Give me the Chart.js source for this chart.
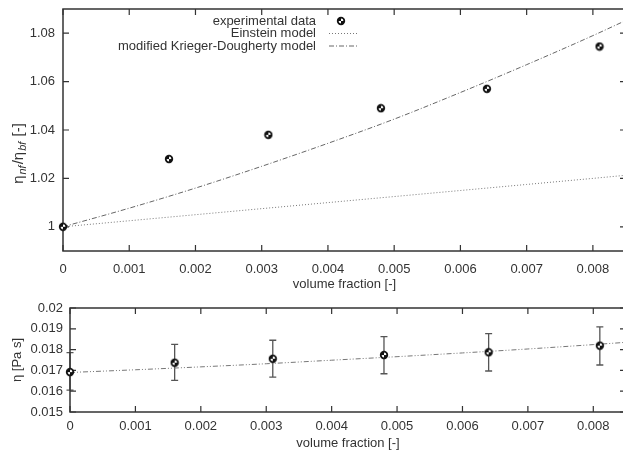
<!DOCTYPE html>
<html>
<head>
<meta charset="utf-8">
<script src="https://cdn.jsdelivr.net/npm/chart.js@4/dist/chart.umd.min.js"></script>
<style>
  html, body { margin: 0; padding: 0; background: #fff; }
  body { width: 623px; height: 454px; overflow: hidden; position: relative; }
  .box { position: absolute; left: 0; }
</style>
</head>
<body>
<div class="box" style="top:0; width:632px; height:300px;"><canvas id="ratioChart"></canvas></div>
<div class="box" style="top:300px; width:632px; height:154px;"><canvas id="viscChart"></canvas></div>
<script>
const volFraction = [0, 0.0016, 0.0031, 0.0048, 0.0064, 0.0081];
const viscRatio = [1.0, 1.028, 1.038, 1.049, 1.057, 1.0745];
const viscosity = [0.01692, 0.01737, 0.01756, 0.01774, 0.01787, 0.01819];
const viscHigh = [0.01785, 0.01825, 0.01845, 0.01862, 0.01877, 0.01909];
const viscLow = [0.01605, 0.01652, 0.01668, 0.01684, 0.01697, 0.01726];

// model curves
const modelX = [0, 0.001, 0.002, 0.003, 0.004, 0.005, 0.006, 0.007, 0.008, 0.0085];
const einsteinRatio = [1.0, 1.0025, 1.005, 1.0075, 1.010, 1.0125, 1.015, 1.0175, 1.020, 1.0213];
const kdRatio = [1.0, 1.0077, 1.016, 1.025, 1.0345, 1.0445, 1.0555, 1.067, 1.079, 1.0853];
const kdViscosity = [0.0169, 0.01703, 0.01717, 0.01732, 0.01749, 0.01766, 0.01784, 0.01803, 0.01824, 0.01835];

// tick labels
const xTicks = [0, 0.001, 0.002, 0.003, 0.004, 0.005, 0.006, 0.007, 0.008];
const xTickLabels = ['0', '0.001', '0.002', '0.003', '0.004', '0.005', '0.006', '0.007', '0.008'];
const ratioTicks = [1, 1.02, 1.04, 1.06, 1.08];
const ratioTickLabels = ['1', '1.02', '1.04', '1.06', '1.08'];
const viscTicks = [0.015, 0.016, 0.017, 0.018, 0.019, 0.02];
const viscTickLabels = ['0.015', '0.016', '0.017', '0.018', '0.019', '0.02'];
const legendLabels = ['experimental data', 'Einstein model', 'modified Krieger-Dougherty model'];

const FONT = 'Liberation Sans, Arial, sans-serif';
const TEXT = '#333';

// little black ball with white flecks, like the gnuplot marker
function makeMarker() {
    const c = document.createElement('canvas');
    c.width = 10; c.height = 10;
    const g = c.getContext('2d');
    g.fillStyle = '#111';
    g.beginPath(); g.arc(5, 5, 4.2, 0, Math.PI * 2); g.fill();
    g.fillStyle = '#fff';
    g.beginPath(); g.moveTo(5, 5); g.arc(5, 5, 2.4, -Math.PI / 2, 0); g.fill();
    g.beginPath(); g.moveTo(5, 5); g.arc(5, 5, 2.4, Math.PI / 2, Math.PI); g.fill();
    return c;
}
const marker = makeMarker();

function setTicks(values) {
    return function (scale) {
        scale.ticks = values.map(v => ({ value: v }));
    };
}

// frame with inward ticks on all four sides
const framePlugin = {
    id: 'frame',
    beforeDatasetsDraw(chart) {
        const { ctx, chartArea: a, scales } = chart;
        ctx.save();
        ctx.strokeStyle = '#333';
        ctx.lineWidth = 1.5;
        ctx.strokeRect(a.left, a.top, a.right - a.left, a.bottom - a.top);
        ctx.lineWidth = 1.2;
        ctx.beginPath();
        scales.x.ticks.forEach(t => {
            const px = scales.x.getPixelForValue(t.value);
            ctx.moveTo(px, a.bottom); ctx.lineTo(px, a.bottom - 6);
            ctx.moveTo(px, a.top); ctx.lineTo(px, a.top + 6);
        });
        scales.y.ticks.forEach(t => {
            const py = scales.y.getPixelForValue(t.value);
            ctx.moveTo(a.left, py); ctx.lineTo(a.left + 6, py);
            ctx.moveTo(a.right, py); ctx.lineTo(a.right - 6, py);
        });
        ctx.stroke();
        ctx.restore();
    }
};

// rotated y title with subscripts
const ratioTitlePlugin = {
    id: 'ratioTitle',
    afterDraw(chart) {
        const ctx = chart.ctx;
        const parts = [['η', false], ['nf', true], ['/η', false], ['bf', true], [' [-]', false]];
        const big = '15px ' + FONT, small = 'italic 11px ' + FONT;
        ctx.save();
        let w = 0;
        parts.forEach(p => { ctx.font = p[1] ? small : big; w += ctx.measureText(p[0]).width + 1; });
        ctx.translate(19, 153);
        ctx.rotate(-Math.PI / 2);
        ctx.fillStyle = TEXT;
        ctx.textBaseline = 'middle';
        let x = -w / 2;
        parts.forEach(p => {
            ctx.font = p[1] ? small : big;
            ctx.fillText(p[0], x, p[1] ? 4 : 0);
            x += ctx.measureText(p[0]).width + 1;
        });
        ctx.restore();
    }
};

// gnuplot style key: text right aligned, sample to the right
const keyPlugin = {
    id: 'key',
    afterDatasetsDraw(chart) {
        const ctx = chart.ctx;
        const rows = [21, 33.5, 46];
        const ds = chart.data.datasets;
        ctx.save();
        ctx.font = '13px ' + FONT;
        ctx.fillStyle = TEXT;
        ctx.textAlign = 'right';
        ctx.textBaseline = 'middle';
        legendLabels.forEach((label, i) => {
            ctx.fillText(label, 316, rows[i]);
        });
        ctx.drawImage(marker, 336, rows[0] - 5);
        [1, 2].forEach(i => {
            ctx.strokeStyle = ds[i].borderColor;
            ctx.lineWidth = ds[i].borderWidth;
            ctx.setLineDash(ds[i].borderDash);
            ctx.beginPath();
            ctx.moveTo(329, rows[i]); ctx.lineTo(359, rows[i]);
            ctx.stroke();
        });
        ctx.restore();
    }
};

// vertical error bars for the viscosity plot
const errorBarPlugin = {
    id: 'errorBars',
    beforeDatasetsDraw(chart) {
        const { ctx, scales } = chart;
        ctx.save();
        ctx.strokeStyle = '#555';
        ctx.lineWidth = 1.3;
        ctx.beginPath();
        volFraction.forEach((v, i) => {
            const px = scales.x.getPixelForValue(v);
            const hi = scales.y.getPixelForValue(viscHigh[i]);
            const lo = scales.y.getPixelForValue(viscLow[i]);
            ctx.moveTo(px, hi); ctx.lineTo(px, lo);
            ctx.moveTo(px - 3.5, hi); ctx.lineTo(px + 3.5, hi);
            ctx.moveTo(px - 3.5, lo); ctx.lineTo(px + 3.5, lo);
        });
        ctx.stroke();
        ctx.restore();
    }
};

function toPoints(xs, ys) {
    return xs.map((x, i) => ({ x: x, y: ys[i] }));
}

function xAxis(height, labelPad, titlePad) {
    return {
        type: 'linear', min: 0, max: 0.0085,
        afterBuildTicks: setTicks(xTicks),
        afterFit(scale) { scale.height = height; scale.paddingLeft = 0; scale.paddingRight = 0; },
        grid: { display: false, drawTicks: false },
        border: { display: false },
        ticks: {
            padding: labelPad, color: TEXT, font: { family: FONT, size: 13 },
            maxRotation: 0,
            callback: (v, i) => xTickLabels[i]
        },
        title: {
            display: true, text: 'volume fraction [-]', color: TEXT,
            font: { family: FONT, size: 13 }, padding: { top: 0, bottom: titlePad }
        }
    };
}

function yFit(width) {
    return function (scale) {
        scale.width = width;
        scale.paddingTop = 0;
        scale.paddingBottom = 0;
    };
}

Chart.defaults.animation = false;

new Chart(document.getElementById('ratioChart'), {
    type: 'scatter',
    data: {
        datasets: [
            {
                label: legendLabels[0], data: toPoints(volFraction, viscRatio),
                pointStyle: marker, pointRadius: 4, clip: false
            },
            {
                label: legendLabels[1], data: toPoints(modelX, einsteinRatio),
                showLine: true, pointRadius: 0, borderColor: '#777', borderWidth: 1,
                borderDash: [1, 2], tension: 0
            },
            {
                label: legendLabels[2], data: toPoints(modelX, kdRatio),
                showLine: true, pointRadius: 0, borderColor: '#666', borderWidth: 1,
                borderDash: [5, 2, 1, 2], cubicInterpolationMode: 'monotone'
            }
        ]
    },
    options: {
        responsive: true, maintainAspectRatio: false,
        layout: { padding: { top: 9, right: 6, left: 0, bottom: 0 } },
        plugins: { legend: { display: false }, tooltip: { enabled: false } },
        scales: {
            x: xAxis(49, 11, 8),
            y: {
                type: 'linear', min: 0.99, max: 1.09,
                afterBuildTicks: setTicks(ratioTicks),
                afterFit: yFit(63),
                grid: { display: false, drawTicks: false },
                border: { display: false },
                ticks: {
                    padding: 8, color: TEXT, font: { family: FONT, size: 13 },
                    callback: (v, i) => ratioTickLabels[i]
                }
            }
        }
    },
    plugins: [framePlugin, keyPlugin, ratioTitlePlugin]
});

new Chart(document.getElementById('viscChart'), {
    type: 'scatter',
    data: {
        datasets: [
            {
                label: 'viscosity', data: toPoints(volFraction, viscosity),
                pointStyle: marker, pointRadius: 4, clip: false
            },
            {
                label: 'model', data: toPoints(modelX, kdViscosity),
                showLine: true, pointRadius: 0, borderColor: '#777', borderWidth: 1,
                borderDash: [5, 2, 1, 2, 1, 2], cubicInterpolationMode: 'monotone'
            }
        ]
    },
    options: {
        responsive: true, maintainAspectRatio: false,
        layout: { padding: { top: 8, right: 6, left: 0, bottom: 0 } },
        plugins: { legend: { display: false }, tooltip: { enabled: false } },
        scales: {
            x: xAxis(42, 7, 3),
            y: {
                type: 'linear', min: 0.015, max: 0.02,
                afterBuildTicks: setTicks(viscTicks),
                afterFit: yFit(70),
                grid: { display: false, drawTicks: false },
                border: { display: false },
                ticks: {
                    padding: 7, color: TEXT, font: { family: FONT, size: 13 },
                    callback: (v, i) => viscTickLabels[i]
                },
                title: {
                    display: true, text: 'η [Pa s]', color: TEXT,
                    font: { family: FONT, size: 13 }, padding: { top: 10, bottom: 0 }
                }
            }
        }
    },
    plugins: [errorBarPlugin, framePlugin]
});
</script>
</body>
</html>
